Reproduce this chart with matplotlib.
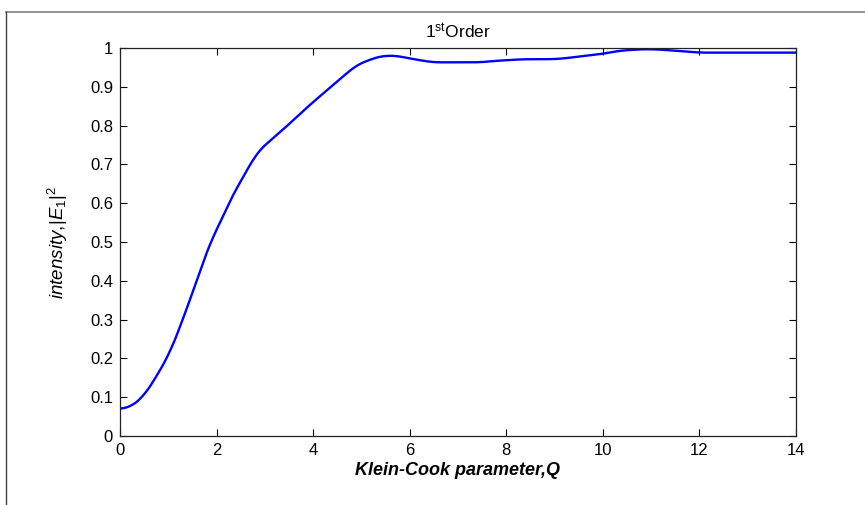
import matplotlib
matplotlib.use("Agg")
import matplotlib.pyplot as plt
from matplotlib.lines import Line2D
import numpy as np

# First-order diffraction intensity vs. Klein-Cook parameter
Q = [0.0, 0.21, 0.48, 0.69, 1.03, 1.31, 1.52, 1.69, 1.86, 2.07, 2.28,
     2.69, 2.83, 2.97, 3.38, 3.93, 4.49, 4.90, 5.24, 5.45, 5.73, 6.0,
     6.28, 6.49, 7.45, 7.80, 8.35, 8.9, 9.11, 10.0, 10.35, 10.83,
     11.18, 11.59, 12.0, 13.0, 14.0]
I1 = [0.070, 0.074, 0.101, 0.140, 0.213, 0.303, 0.376, 0.436, 0.497,
      0.548, 0.608, 0.698, 0.729, 0.746, 0.790, 0.853, 0.913, 0.956,
      0.973, 0.980, 0.980, 0.973, 0.967, 0.963, 0.963, 0.967, 0.971,
      0.971, 0.972, 0.985, 0.993, 0.997, 0.996, 0.992, 0.988, 0.988,
      0.988]

XTICKS = [0, 2, 4, 6, 8, 10, 12, 14]
YTICKS = [0, 0.1, 0.2, 0.3, 0.4, 0.5, 0.6, 0.7, 0.8, 0.9, 1]
YTICK_LABELS = ["0", "0.1", "0.2", "0.3", "0.4", "0.5", "0.6", "0.7",
                "0.8", "0.9", "1"]

plt.rcParams["font.family"] = ["Liberation Sans", "DejaVu Sans"]
plt.rcParams["mathtext.fontset"] = "custom"
plt.rcParams["mathtext.rm"] = "Liberation Sans"
plt.rcParams["mathtext.it"] = "Liberation Sans:italic"
plt.rcParams["mathtext.bf"] = "Liberation Sans:bold:italic"

fig = plt.figure(figsize=(8.65, 5.05), dpi=100)
ax = fig.add_axes([0.1387, 0.1366, 0.9202 - 0.1387, 0.905 - 0.1366])

# light running-mean smoothing of the sampled curve
xs = np.linspace(0, 14, 600)
ys = np.interp(xs, Q, I1)
k = 7
ys = np.convolve(np.pad(ys, k, mode="edge"), np.ones(2 * k + 1) / (2 * k + 1),
                 mode="valid")
ax.plot(xs, ys, color="#0000ff", lw=1.7)

ax.set_xlim(0, 14)
ax.set_ylim(0, 1)
ax.set_xticks(XTICKS)
ax.set_yticks(YTICKS)
ax.set_yticklabels(YTICK_LABELS)
ax.tick_params(direction="in", length=5, width=0.8, labelsize=12,
               top=True, right=True, colors="black", pad=5)
for s in ax.spines.values():
    s.set_linewidth(0.9)
    s.set_color("#222222")

ax.set_title(r"1$^{\rm st}$Order", fontsize=12.5, pad=7)
ax.set_xlabel("Klein-Cook parameter,Q", fontsize=13, fontweight="bold",
              style="italic", labelpad=3)
ax.set_ylabel(r"$\it{intensity,}\!$|$\it{E}_1$|$^2$", fontsize=13.5,
              labelpad=14)

# outer frame lines along top and left
fig.add_artist(Line2D([6 / 865, 1], [1 - 12 / 505, 1 - 12 / 505],
                      transform=fig.transFigure, color="#808080", lw=1.2))
fig.add_artist(Line2D([6 / 865, 6 / 865], [0, 1 - 12 / 505],
                      transform=fig.transFigure, color="#404040", lw=1.0))

fig.savefig("out.png", dpi=100)
